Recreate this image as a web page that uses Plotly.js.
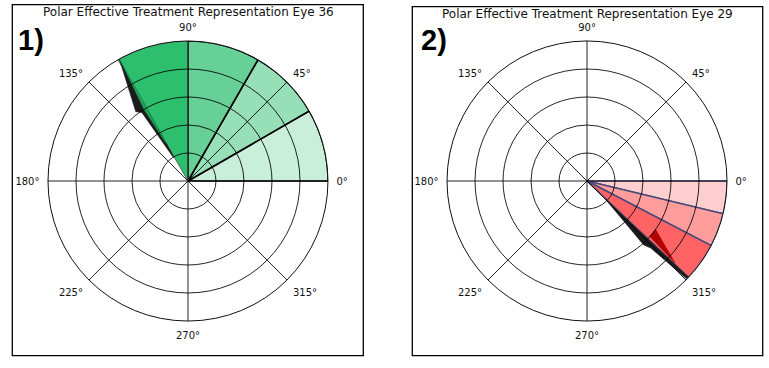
<!DOCTYPE html>
<html>
<head>
<meta charset="utf-8">
<script src="https://cdn.plot.ly/plotly-3.0.1.min.js"></script>
<style>
  html, body { margin: 0; padding: 0; background: #fff; }
  #chart { width: 769px; height: 368px; }
</style>
</head>
<body>
<div id="chart"></div>
<script>
// Eye 36 (left panel) wedges
const leftTheta = [15, 45, 75, 105];
const leftWidth = [30, 30, 30, 30];
const leftR = [5, 5, 5, 5];
const leftColors = ['#c9eed9', '#97dfb7', '#66d096', '#2ebf6e'];

// Eye 29 (right panel) wedges
const rightTheta = [-6.75, -20.5, -35.5];
const rightWidth = [13.5, 14, 16];
const rightR = [5, 5, 5];
const rightColors = ['#ffcfcf', '#ff9d9d', '#ff6363'];

// shading slivers along the last wedge edge
const leftShadowR = [5, 3.1, 2.95, 1.0, 1.0, 5];
const leftShadowTheta = [119.4, 127, 124, 122, 120.3, 119.4];
const leftDarkR = [5, 3.0, 1.6, 5];
const leftDarkTheta = [119.2, 121.5, 120.3, 119.2];

const rightShadowR = [0.9, 3.05, 3.3, 4.97, 5, 0.9];
const rightShadowTheta = [-44.5, -48.5, -46.5, -44.5, -43.5, -44.5];
const rightDarkR = [2.98, 3.0, 4.3, 2.98];
const rightDarkTheta = [-41.4, -35.2, -43.0, -41.4];

const titles = ['Polar Effective Treatment Representation Eye 36',
                'Polar Effective Treatment Representation Eye 29'];
const panelTags = ['1)', '2)'];

const tickFont = { family: 'DejaVu Sans', size: 10, color: '#111' };

function barsPolar(domainX) {
    return {
        domain: { x: domainX, y: [0.1277, 0.8886] },
        bgcolor: 'rgba(0,0,0,0)',
        radialaxis: { range: [0, 5], showgrid: false, showline: false, showticklabels: false, ticks: '' },
        angularaxis: { showgrid: false, showline: false, showticklabels: false, ticks: '' },
        bargap: 0
    };
}

// drawn over the bars so the rings and spokes show through the wedges
function gridPolar(domainX) {
    return {
        domain: { x: domainX, y: [0.1277, 0.8886] },
        bgcolor: 'rgba(0,0,0,0)',
        radialaxis: {
            range: [0, 5], dtick: 1, showline: false, showticklabels: false, ticks: '',
            gridcolor: 'rgba(0,0,0,0.85)', gridwidth: 1
        },
        angularaxis: {
            dtick: 45, direction: 'counterclockwise', rotation: 0,
            gridcolor: 'rgba(0,0,0,0.85)', gridwidth: 1,
            showline: true, linecolor: '#111', linewidth: 1,
            ticks: 'outside', ticklen: 6, tickcolor: 'rgba(0,0,0,0)',
            tickfont: tickFont
        }
    };
}

const traces = [
    {
        type: 'barpolar', subplot: 'polar',
        r: leftR, theta: leftTheta, width: leftWidth,
        marker: {
            color: leftColors,
            line: { color: ['#000', '#000', '#000', '#666'], width: [1.6, 1.6, 1.6, 1] }
        },
        hoverinfo: 'skip'
    },
    {
        type: 'scatterpolar', subplot: 'polar', mode: 'lines',
        r: leftShadowR, theta: leftShadowTheta,
        fill: 'toself', fillcolor: '#1c1c1c', line: { color: '#1c1c1c', width: 0.5 },
        hoverinfo: 'skip'
    },
    {
        type: 'scatterpolar', subplot: 'polar', mode: 'lines',
        r: leftDarkR, theta: leftDarkTheta,
        fill: 'toself', fillcolor: '#1fa257', line: { color: '#1fa257', width: 0.5 },
        hoverinfo: 'skip'
    },
    { type: 'scatterpolar', subplot: 'polar2', r: [], theta: [], hoverinfo: 'skip' },
    {
        type: 'barpolar', subplot: 'polar3',
        r: rightR, theta: rightTheta, width: rightWidth,
        marker: {
            color: rightColors,
            line: { color: '#4b4a7a', width: 1.5 }
        },
        hoverinfo: 'skip'
    },
    {
        type: 'scatterpolar', subplot: 'polar3', mode: 'lines',
        r: rightShadowR, theta: rightShadowTheta,
        fill: 'toself', fillcolor: '#1c1c1c', line: { color: '#1c1c1c', width: 0.5 },
        hoverinfo: 'skip'
    },
    {
        type: 'scatterpolar', subplot: 'polar3', mode: 'lines',
        r: rightDarkR, theta: rightDarkTheta,
        fill: 'toself', fillcolor: '#b00000', line: { color: '#b00000', width: 0.5 },
        hoverinfo: 'skip'
    },
    { type: 'scatterpolar', subplot: 'polar4', r: [], theta: [], hoverinfo: 'skip' }
];

const leftDom = [0.0624, 0.4265];
const rightDom = [0.5813, 0.9454];

function label(text, x, y, font) {
    return {
        text: text, xref: 'paper', yref: 'paper', x: x / 769, y: 1 - y / 368,
        xanchor: 'center', yanchor: 'middle', showarrow: false, font: font
    };
}

const titleFont = { size: 12, family: 'DejaVu Sans', color: '#111' };
const tagFont = { size: 29, family: 'Liberation Sans', color: '#000' };

const layout = {
    width: 769,
    height: 368,
    margin: { l: 0, r: 0, t: 0, b: 0 },
    paper_bgcolor: '#fff',
    showlegend: false,
    font: { family: 'DejaVu Sans', color: '#111' },
    polar: barsPolar(leftDom),
    polar2: gridPolar(leftDom),
    polar3: barsPolar(rightDom),
    polar4: gridPolar(rightDom),
    shapes: [
        { type: 'rect', xref: 'paper', yref: 'paper', x0: 12.3 / 769, x1: 363.3 / 769,
          y0: 1 - 355.7 / 368, y1: 1 - 4.7 / 368, line: { color: '#000', width: 1.3 } },
        { type: 'rect', xref: 'paper', yref: 'paper', x0: 412.3 / 769, x1: 762.7 / 769,
          y0: 1 - 355.7 / 368, y1: 1 - 6.7 / 368, line: { color: '#000', width: 1.3 } }
    ],
    annotations: [
        label(titles[0], 188, 11.7, titleFont),
        label(titles[1], 587.5, 14, titleFont),
        label('<b>' + panelTags[0] + '</b>', 30.5, 40, tagFont),
        label('<b>' + panelTags[1] + '</b>', 433.5, 40, tagFont)
    ]
};

Plotly.newPlot('chart', traces, layout, { staticPlot: true, displayModeBar: false });
</script>
</body>
</html>
